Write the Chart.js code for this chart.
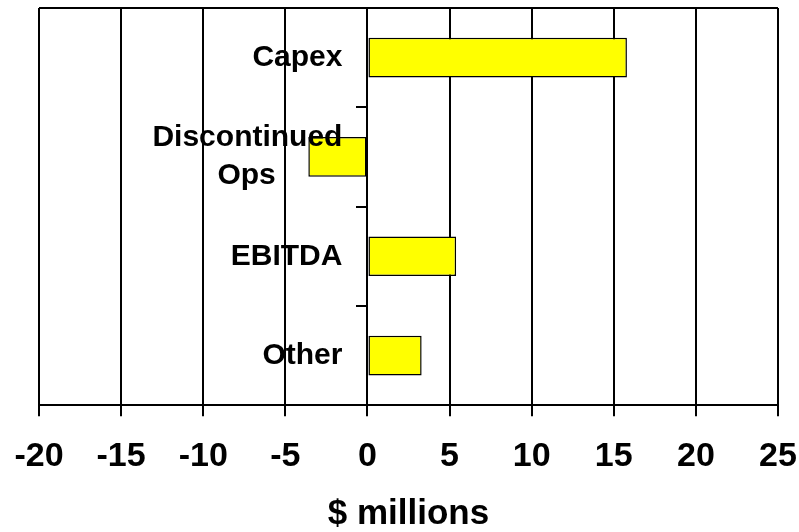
<!DOCTYPE html>
<html lang="en">
<head>
    <meta charset="UTF-8">
    <title>Cash Flow Drivers</title>
    <script src="https://cdn.jsdelivr.net/npm/chart.js@4"></script>
    <style>
        body {
            margin: 0;
            padding: 0;
            background-color: #ffffff;
        }
        .chart-box {
            width: 799px;
            height: 532px;
        }
    </style>
</head>
<body>
    <div class="chart-box">
        <canvas id="driversChart"></canvas>
    </div>

    <script>
        const categories = ['Capex', ['Discontinued', 'Ops'], 'EBITDA', 'Other'];
        const values = [15.8, -3.6, 5.4, 3.3]; // $ millions
        const axisMin = -20;
        const axisMax = 25;
        const axisStep = 5;

        const fontFamily = '"Liberation Sans", Arial, sans-serif';
        const labelFont = { family: fontFamily, size: 30, weight: 'bold', lineHeight: 1.25 };

        // labels sit right-aligned against the zero line; pad them with spaces so
        // there is a gap before the axis, and centre the lines of wrapped labels
        const measureCtx = document.createElement('canvas').getContext('2d');
        measureCtx.font = `bold ${labelFont.size}px ${fontFamily}`;
        const spaceWidth = measureCtx.measureText(' ').width;

        function padLabel(label) {
            const lines = Array.isArray(label) ? label : [label];
            const widest = Math.max(...lines.map(l => measureCtx.measureText(l).width));
            const padded = lines.map(l => {
                const extra = (widest - measureCtx.measureText(l).width) / 2;
                return l + ' '.repeat(Math.round(extra / spaceWidth) + 3);
            });
            return padded.length === 1 ? padded[0] : padded;
        }

        // closes the plot box along the top edge
        const topBorder = {
            id: 'topBorder',
            beforeDatasetsDraw(chart) {
                const { ctx, chartArea } = chart;
                ctx.save();
                ctx.strokeStyle = '#000';
                ctx.lineWidth = 2;
                ctx.beginPath();
                ctx.moveTo(chartArea.left, chartArea.top);
                ctx.lineTo(chartArea.right, chartArea.top);
                ctx.stroke();
                ctx.restore();
            }
        };

        new Chart(document.getElementById('driversChart'), {
            type: 'bar',
            data: {
                labels: categories,
                datasets: [{
                    data: values,
                    backgroundColor: '#ffff00',
                    borderColor: '#000',
                    borderWidth: 1.5,
                    borderSkipped: false,
                    barPercentage: 0.4,
                    categoryPercentage: 1.0
                }]
            },
            options: {
                indexAxis: 'y',
                responsive: true,
                maintainAspectRatio: false,
                animation: false,
                layout: {
                    padding: { left: 39, right: 21, top: 8, bottom: 0 }
                },
                plugins: {
                    legend: { display: false },
                    tooltip: { enabled: false }
                },
                scales: {
                    x: {
                        min: axisMin,
                        max: axisMax,
                        afterFit(scale) {
                            scale.paddingLeft = 0;
                            scale.paddingRight = 0;
                        },
                        ticks: {
                            stepSize: axisStep,
                            color: '#000',
                            padding: 20,
                            font: { family: fontFamily, size: 34, weight: 'bold', lineHeight: 1.2 }
                        },
                        grid: {
                            color: '#000',
                            lineWidth: 2,
                            tickLength: 11
                        },
                        border: { color: '#000', width: 2 },
                        title: {
                            display: true,
                            text: '$ millions',
                            color: '#000',
                            padding: { top: 0, bottom: 0 },
                            font: { family: fontFamily, size: 35, weight: 'bold', lineHeight: 1 }
                        }
                    },
                    y: {
                        position: { x: 0 },
                        afterFit(scale) {
                            scale.paddingTop = 0;
                            scale.paddingBottom = 0;
                        },
                        ticks: {
                            z: 1,
                            color: '#000',
                            padding: 0,
                            font: labelFont,
                            callback(value) {
                                return padLabel(this.getLabelForValue(value));
                            }
                        },
                        grid: {
                            drawOnChartArea: false,
                            color: '#000',
                            lineWidth: 2,
                            tickLength: 10
                        },
                        border: { color: '#000', width: 2 }
                    }
                }
            },
            plugins: [topBorder]
        });
    </script>
</body>
</html>
